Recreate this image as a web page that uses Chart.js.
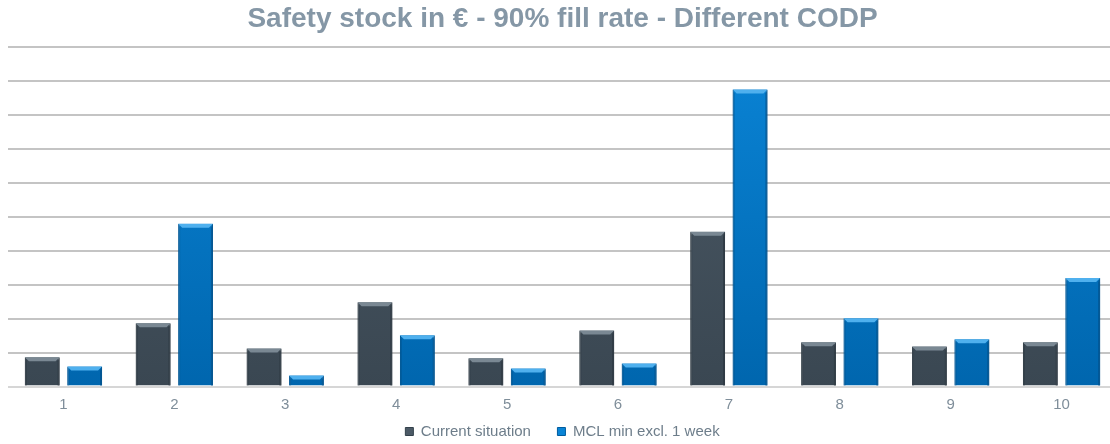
<!DOCTYPE html>
<html>
<head>
<meta charset="utf-8">
<title>Safety stock in € - 90% fill rate - Different CODP</title>
<script src="https://cdn.jsdelivr.net/npm/chart.js@4/dist/chart.umd.min.js"></script>
<style>
  html, body { margin: 0; padding: 0; background: #ffffff; overflow: hidden; }
  #wrap { width: 1117px; height: 444px; }
</style>
</head>
<body>
<div id="wrap"><canvas id="chart" width="1117" height="444"></canvas></div>
<script>
// Categories (product groups) and safety stock values per scenario (relative units)
const categories = ['1', '2', '3', '4', '5', '6', '7', '8', '9', '10'];
const currentSituation = [8.6, 18.6, 11.2, 24.8, 8.3, 16.5, 45.5, 13.0, 11.8, 13.0];
const mclMinExcl1Week = [5.9, 47.9, 3.2, 15.1, 5.3, 6.8, 87.4, 20.1, 13.9, 31.9];
const seriesNames = ['Current situation', 'MCL min excl. 1 week'];
const titleText = 'Safety stock in € - 90% fill rate - Different CODP';

// Bar palettes: body gradient, top bevel highlight, edge shade
const palettes = [
  { top: '#4c5a66', bottom: '#3a4752', bevel: '#7a8893', edge: '#2c3740', border: '#34414b' },
  { top: '#0a84d6', bottom: '#0066ae', bevel: '#4fb0ee', edge: '#00518c', border: '#005c9e' }
];

function barGradient(ctx, i) {
  const chart = ctx.chart;
  const area = chart.chartArea;
  if (!area) return palettes[i].top;
  const g = chart.ctx.createLinearGradient(0, area.top, 0, area.bottom);
  g.addColorStop(0, palettes[i].top);
  g.addColorStop(1, palettes[i].bottom);
  return g;
}

// Bevelled look: lighter top face and darker side faces on each bar
const bevelPlugin = {
  id: 'bevel',
  afterDatasetsDraw(chart) {
    const c = chart.ctx;
    chart.data.datasets.forEach((ds, i) => {
      const meta = chart.getDatasetMeta(i);
      const p = palettes[i];
      meta.data.forEach(bar => {
        const { x, y, base, width } = bar.getProps(['x', 'y', 'base', 'width'], true);
        const l = x - width / 2, r = x + width / 2;
        const h = base - y;
        const d = Math.min(4, h / 2);
        c.save();
        // top face
        c.fillStyle = p.bevel;
        c.beginPath();
        c.moveTo(l, y); c.lineTo(r, y); c.lineTo(r - d, y + d); c.lineTo(l + d, y + d);
        c.closePath(); c.fill();
        // right face
        c.fillStyle = p.edge;
        c.globalAlpha = 0.75;
        c.beginPath();
        c.moveTo(r, y); c.lineTo(r, base); c.lineTo(r - 2, base); c.lineTo(r - 2, y + d);
        c.closePath(); c.fill();
        // left face
        c.globalAlpha = 0.45;
        c.beginPath();
        c.moveTo(l, y); c.lineTo(l + 2, y + d); c.lineTo(l + 2, base); c.lineTo(l, base);
        c.closePath(); c.fill();
        c.restore();
      });
    });
  }
};

const fontFamily = '"Liberation Sans", Arial, sans-serif';

new Chart(document.getElementById('chart'), {
  type: 'bar',
  data: {
    labels: categories,
    datasets: [
      {
        label: seriesNames[0],
        data: currentSituation,
        backgroundColor: ctx => barGradient(ctx, 0),
        borderColor: palettes[0].border,
        borderWidth: 1,
        borderSkipped: 'bottom'
      },
      {
        label: seriesNames[1],
        data: mclMinExcl1Week,
        backgroundColor: ctx => barGradient(ctx, 1),
        borderColor: palettes[1].border,
        borderWidth: 1,
        borderSkipped: 'bottom'
      }
    ]
  },
  options: {
    responsive: false,
    devicePixelRatio: 1,
    animation: false,
    categoryPercentage: 0.765,
    barPercentage: 0.82,
    layout: { padding: { left: 8, right: 0, top: 0, bottom: -5 } },
    plugins: {
      title: {
        display: true,
        text: titleText,
        color: '#8597a6',
        font: { family: fontFamily, size: 28, weight: 'bold' },
        padding: { top: 2, bottom: 11 }
      },
      legend: {
        position: 'bottom',
        labels: {
          color: '#6d7d8a',
          font: { family: fontFamily, size: 15 },
          boxWidth: 8,
          boxHeight: 8,
          padding: 1.5,
          // extra space after each entry except the last
          generateLabels(chart) {
            const items = Chart.defaults.plugins.legend.labels.generateLabels(chart);
            items.forEach((it, k) => {
              it.fillStyle = palettes[k].top;
              it.strokeStyle = palettes[k].border;
              it.lineWidth = 1;
              if (k < items.length - 1) it.text = it.text + '      ';
            });
            return items;
          }
        }
      },
      tooltip: { enabled: false }
    },
    scales: {
      x: {
        grid: { display: false, drawTicks: false },
        border: { display: false },
        ticks: {
          color: '#7f8e9a',
          font: { family: fontFamily, size: 15 },
          padding: 9
        }
      },
      y: {
        min: 0,
        max: 100,
        ticks: { display: false, stepSize: 10 },
        border: { display: false },
        grid: {
          drawTicks: false,
          color: ctx => ctx.tick && ctx.tick.value === 0 ? '#d6d6d6' : '#c4c4c4',
          lineWidth: 2
        }
      }
    }
  },
  plugins: [bevelPlugin]
});
</script>
</body>
</html>
